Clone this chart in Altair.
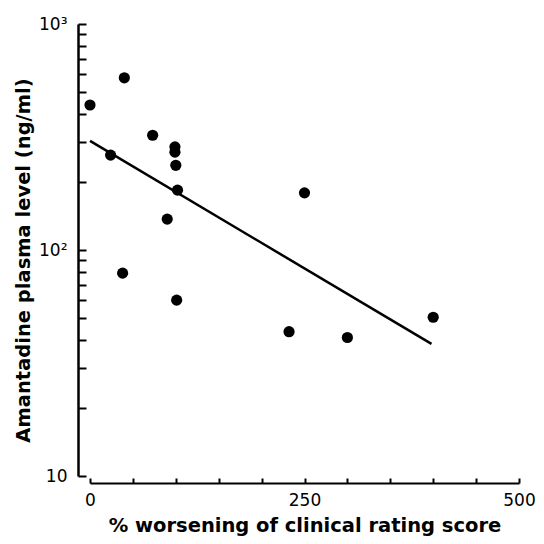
import altair as alt
import pandas as pd

# data
x_vals = [0, 40, 24, 73, 99, 99, 100, 102, 90, 38, 101, 250, 232, 300, 400]
y_vals = [438, 578, 263, 322, 286, 271, 237, 184, 137, 79, 60, 179, 43.5, 41, 50.4]
fit_x = [0, 398]
fit_y = [304, 38.4]

y_major = [10, 100, 1000]
y_labels = ["10", "10²", "10³"]
y_minor = [10, 20, 30, 40, 50, 60, 70, 80, 90,
           100, 200, 300, 400, 500, 600, 700, 800, 900, 1000]
x_ticks = [0, 50, 100, 150, 200, 250, 300, 350, 400, 450, 500]
x_labels = [0, 250, 500]

points = pd.DataFrame({"x": x_vals, "y": y_vals})
fit = pd.DataFrame({"x": fit_x, "y": fit_y})

W, H = 429, 452
FONT = "DejaVu Sans"

xscale = alt.Scale(domain=[0, 500], nice=False, zero=False)
yscale = alt.Scale(type="log", domain=[10, 1000], nice=False)

label_expr = " : ".join(
    f"datum.value == {v} ? '{t}'" for v, t in zip(y_major[::-1], y_labels[::-1])
) + " : ''"

pts = alt.Chart(points).mark_circle(size=125, color="black", opacity=1).encode(
    x=alt.X("x:Q", scale=xscale, axis=alt.Axis(
        orient="bottom", values=x_labels, offset=7, ticks=False,
        labelFlush=False, labelPadding=9, grid=False, domainWidth=2,
        domainColor="black",
        title="% worsening of clinical rating score",
        titleY=48, titleBaseline="alphabetic")),
    y=alt.Y("y:Q", scale=yscale, axis=alt.Axis(
        orient="left", values=y_major, labelExpr=label_expr, offset=12,
        ticks=False, labelFlush=False, labelPadding=11, grid=False,
        domainWidth=2.5, domainColor="black",
        title="Amantadine plasma level (ng/ml)",
        titleAngle=-90, titleX=-49, titleY=236, titleAlign="center",
        titleBaseline="alphabetic")),
)

line = alt.Chart(fit).mark_line(color="black", strokeWidth=2.5).encode(
    x=alt.X("x:Q", scale=xscale, axis=alt.Axis(
        orient="top", values=x_ticks, offset=-(H + 7), labels=False,
        domain=False, grid=False, tickSize=5, tickWidth=2,
        tickColor="black", title=None)),
    y=alt.Y("y:Q", scale=yscale, axis=alt.Axis(
        orient="right", values=y_minor, offset=-(W + 12), labels=False,
        domain=False, grid=False, tickSize=8, tickWidth=2,
        tickColor="black", title=None)),
)

chart = alt.layer(pts, line).resolve_axis(
    x="independent", y="independent"
).properties(
    width=W, height=H,
    autosize=alt.AutoSizeParams(type="none"),
    padding={"left": 82, "top": 16, "right": 17, "bottom": 60},
).configure_view(stroke=None).configure_axis(
    labelFont=FONT, labelFontSize=17, labelColor="black",
    titleFont=FONT, titleFontSize=19.5, titleFontWeight="bold",
    titleColor="black",
)

chart.save("out.html", embed_options={"renderer": "svg", "actions": False})
